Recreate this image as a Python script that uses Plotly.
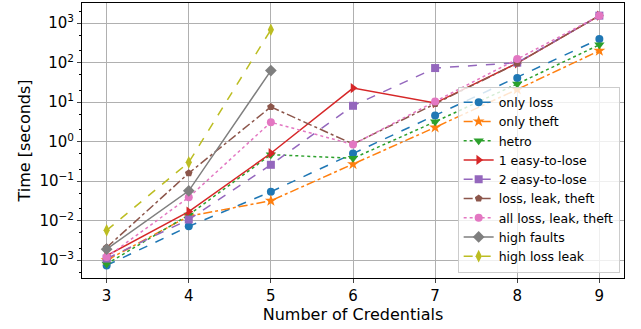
import plotly.graph_objects as go

x_vals = [3, 4, 5, 6, 7, 8, 9]
x_short = [3, 4, 5]

only_loss = [0.00074, 0.0072, 0.054, 0.5, 4.6, 41, 398]
only_theft = [0.001, 0.013, 0.032, 0.27, 2.3, 21, 200]
hetro = [0.0008, 0.014, 0.47, 0.38, 3.2, 29, 283]
easy1 = [0.0013, 0.017, 0.51, 22.7, 9.5, 97, 1550]
easy2 = [0.0011, 0.0107, 0.26, 8.1, 73, 100, 1550]
loss_leak_theft = [0.0021, 0.16, 7.6, 0.87, 9.1, 97, 1550]
all_loss_leak_theft = [0.0012, 0.039, 3.1, 0.85, 10.4, 123, 1550]
high_faults = [0.0019, 0.057, 63]
high_loss_leak = [0.0057, 0.30, 680]

ytick_vals = [1e-3, 1e-2, 1e-1, 1, 10, 100, 1000]
ytick_text = ["10<sup>−3</sup>", "10<sup>−2</sup>", "10<sup>−1</sup>", "10<sup>0</sup>",
              "10<sup>1</sup>", "10<sup>2</sup>", "10<sup>3</sup>"]

series = [
    ("only loss", x_vals, only_loss, "#1f77b4", "dash", "circle", 8),
    ("only theft", x_vals, only_theft, "#ff7f0e", "dashdot", "star", 9),
    ("hetro", x_vals, hetro, "#2ca02c", "dot", "triangle-down", 9),
    ("1 easy-to-lose", x_vals, easy1, "#d62728", "solid", "triangle-right", 9),
    ("2 easy-to-lose", x_vals, easy2, "#9467bd", "dash", "square", 8),
    ("loss, leak, theft", x_vals, loss_leak_theft, "#8c564b", "dashdot", "pentagon", 8),
    ("all loss, leak, theft", x_vals, all_loss_leak_theft, "#e377c2", "dot", "circle", 8),
    ("high faults", x_short, high_faults, "#7f7f7f", "solid", "diamond", 9),
    ("high loss leak", x_short, high_loss_leak, "#bcbd22", "dash", "diamond-tall", 9),
]

fig = go.Figure()
for name, xs, ys, color, dash, sym, size in series:
    fig.add_trace(go.Scatter(
        x=xs, y=ys, name=name, mode="lines+markers",
        line=dict(color=color, dash=dash, width=1.5),
        marker=dict(color=color, symbol=sym, size=size, line=dict(width=0)),
    ))

fig.update_layout(
    width=641, height=329,
    margin=dict(l=82, r=17, t=3, b=51),
    paper_bgcolor="white", plot_bgcolor="white",
    font=dict(family="DejaVu Sans", color="black", size=14),
    legend=dict(
        x=0.992, y=0.02, xanchor="right", yanchor="bottom",
        bgcolor="rgba(255,255,255,0.8)", bordercolor="#cccccc", borderwidth=1,
        font=dict(size=12.5), tracegroupgap=0, itemwidth=30,
    ),
)
fig.update_xaxes(
    range=[2.7, 9.3], tickvals=x_vals, ticks="outside", ticklen=4,
    showgrid=True, gridcolor="#b0b0b0", gridwidth=1,
    showline=True, linecolor="black", linewidth=1, mirror=True,
    title=dict(text="Number of Credentials", font=dict(size=16), standoff=2),
    tickfont=dict(size=15), zeroline=False, automargin=False,
)
fig.update_yaxes(
    type="log", range=[-3.45, 3.51], tickvals=ytick_vals, ticktext=ytick_text,
    ticks="outside", ticklen=4,
    showgrid=True, gridcolor="#b0b0b0", gridwidth=1,
    showline=True, linecolor="black", linewidth=1, mirror=True,
    title=dict(text="Time [seconds]", font=dict(size=16), standoff=4),
    tickfont=dict(size=15), zeroline=False, automargin=False,
    minor=dict(ticks="outside", ticklen=2, showgrid=False, tickcolor="black"),
)

fig.write_html("out.html", config={"displayModeBar": False},
               post_script="document.body.style.margin='0';")
